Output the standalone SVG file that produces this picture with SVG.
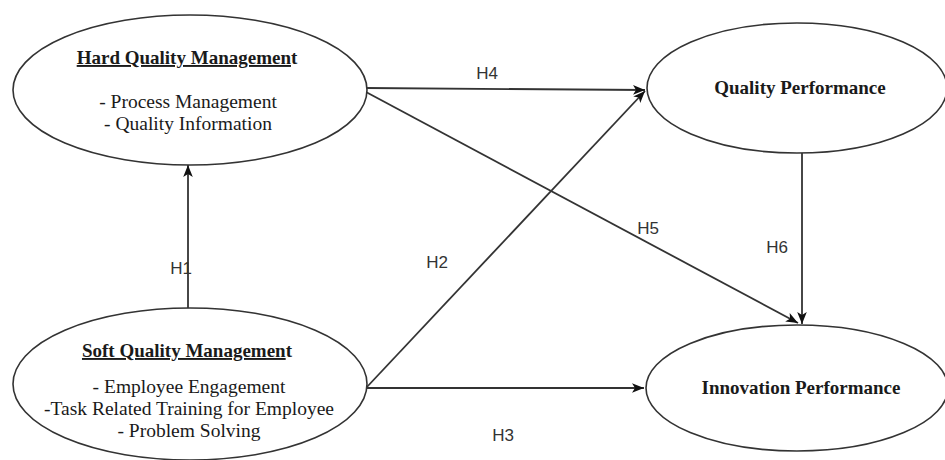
<svg xmlns="http://www.w3.org/2000/svg" width="945" height="460" viewBox="0 0 945 460">
<style>
.node ellipse{fill:#fff;stroke:#333;stroke-width:1.6}
.t{font-family:"Liberation Serif","Times New Roman",serif;font-size:19.5px;fill:#1a1a1a;text-anchor:middle}
.b{font-weight:bold;font-size:19px}
.u{text-decoration:underline}
.edge{stroke:#333;stroke-width:1.8;fill:none;marker-end:url(#arr)}
.lbl{font-family:"Liberation Sans",Arial,sans-serif;font-size:17px;fill:#333;text-anchor:middle}
</style>
<defs>
<marker id="arr" viewBox="0 0 10 8" refX="10" refY="4" markerWidth="12" markerHeight="10" orient="auto" markerUnits="userSpaceOnUse">
<path d="M0,0 L10,4 L0,8 L2.5,4 Z" fill="#111"/>
</marker>
</defs>
<rect width="945" height="460" fill="#fff"/>
<g id="connectors">
<line class="edge" x1="188" y1="308" x2="188" y2="165"/>
<line class="edge" x1="366" y1="88" x2="645" y2="90"/>
<line class="edge" x1="366" y1="92" x2="798" y2="323"/>
<line class="edge" x1="366" y1="388" x2="645" y2="91"/>
<line class="edge" x1="366" y1="388" x2="644" y2="388"/>
<line class="edge" x1="802" y1="153" x2="802" y2="324"/>
<text class="lbl" x="181" y="274">H1</text>
<text class="lbl" x="437" y="268">H2</text>
<text class="lbl" x="503" y="441">H3</text>
<text class="lbl" x="487" y="79">H4</text>
<text class="lbl" x="648" y="234">H5</text>
<text class="lbl" x="777" y="253">H6</text>
</g>
<g id="hard-qm" class="node">
<ellipse cx="190" cy="90" rx="177" ry="75"/>
<text class="t b" x="187" y="64"><tspan class="u">Hard Quality Managemen</tspan>t</text>
<text class="t" x="188" y="108">- Process Management</text>
<text class="t" x="188" y="130">- Quality Information</text>
</g>
<g id="soft-qm" class="node">
<ellipse cx="190" cy="384" rx="177" ry="76"/>
<text class="t b" x="187" y="357"><tspan class="u">Soft Quality Managemen</tspan>t</text>
<text class="t" x="189" y="393">- Employee Engagement</text>
<text class="t" x="189" y="415">-Task Related Training for Employee</text>
<text class="t" x="189" y="437">- Problem Solving</text>
</g>
<g id="quality-perf" class="node">
<ellipse cx="797" cy="88" rx="150" ry="65"/>
<text class="t b" x="800" y="94">Quality Performance</text>
</g>
<g id="innovation-perf" class="node">
<ellipse cx="797" cy="388" rx="151" ry="63"/>
<text class="t b" x="801" y="394">Innovation Performance</text>
</g>
</svg>
